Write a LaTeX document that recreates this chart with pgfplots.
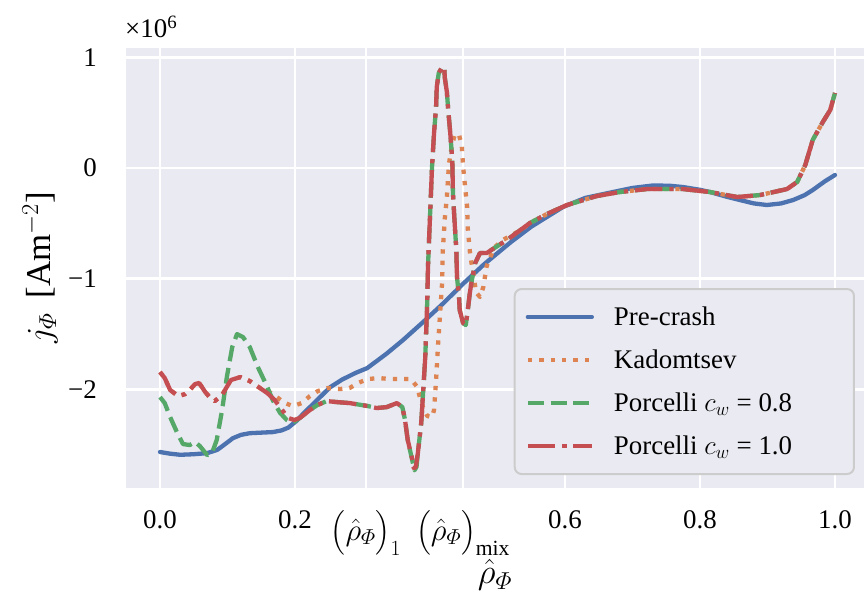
\RequirePackage{fix-cm}
\documentclass[border=0pt]{standalone}
\usepackage{amsmath}
\usepackage{fontspec}
\setmainfont{Liberation Serif}
\usepackage{pgfplots}
\pgfplotsset{compat=1.18}

\definecolor{bgc}{HTML}{EAEAF2}
\definecolor{cblue}{HTML}{4C72B0}
\definecolor{corange}{HTML}{DD8452}
\definecolor{cgreen}{HTML}{55A868}
\definecolor{cred}{HTML}{C44E52}
\definecolor{legedge}{HTML}{CCCCCC}

\newcommand\fs{\fontsize{27}{32}\selectfont}
\newcommand\fm{\fontsize{31}{36}\selectfont}
\newcommand\fl{\fontsize{35}{42}\selectfont}
% legend text cell of fixed width
\newcommand\lent[1]{\makebox[229bp][l]{#1}}

% current density profiles (units of 10^6 A m^-2)
\pgfplotstableread{
x y
0.000 -2.565
0.015 -2.580
0.030 -2.590
0.050 -2.585
0.070 -2.575
0.085 -2.545
0.095 -2.500
0.108 -2.440
0.120 -2.410
0.133 -2.395
0.150 -2.390
0.167 -2.385
0.180 -2.370
0.190 -2.345
0.203 -2.280
0.212 -2.220
0.222 -2.160
0.237 -2.070
0.252 -1.980
0.270 -1.910
0.290 -1.850
0.307 -1.807
0.335 -1.680
0.360 -1.554
0.390 -1.390
0.420 -1.220
0.450 -1.040
0.480 -0.870
0.520 -0.668
0.550 -0.530
0.597 -0.352
0.630 -0.270
0.671 -0.217
0.700 -0.180
0.730 -0.158
0.755 -0.160
0.775 -0.172
0.800 -0.197
0.815 -0.217
0.840 -0.260
0.859 -0.289
0.880 -0.320
0.899 -0.334
0.920 -0.320
0.938 -0.289
0.955 -0.245
0.967 -0.199
0.985 -0.120
1.000 -0.063
}\precrash

\pgfplotstableread{
x y
0.000 -1.843
0.007 -1.897
0.015 -2.005
0.027 -2.060
0.037 -2.042
0.044 -2.005
0.052 -1.951
0.058 -1.942
0.067 -2.023
0.076 -2.087
0.081 -2.105
0.092 -2.051
0.098 -1.987
0.105 -1.915
0.119 -1.888
0.133 -1.924
0.148 -1.987
0.160 -2.015
0.173 -2.069
0.185 -2.123
0.197 -2.150
0.210 -2.123
0.222 -2.060
0.234 -2.014
0.249 -1.987
0.267 -1.996
0.281 -1.987
0.293 -1.942
0.308 -1.906
0.324 -1.897
0.341 -1.906
0.356 -1.906
0.372 -1.906
0.381 -1.978
0.385 -2.069
0.390 -2.168
0.396 -2.240
0.403 -2.249
0.406 -2.186
0.409 -1.915
0.412 -1.590
0.415 -1.310
0.418 -1.030
0.419 -0.741
0.422 -0.452
0.425 -0.262
0.428 0.027
0.430 0.117
0.433 0.217
0.437 0.307
0.443 0.298
0.447 0.208
0.449 0.018
0.452 -0.172
0.455 -0.352
0.456 -0.551
0.459 -0.750
0.461 -0.840
0.464 -0.939
0.468 -1.120
0.474 -1.165
0.479 -1.075
0.484 -0.885
0.490 -0.795
0.496 -0.714
0.508 -0.650
0.536 -0.555
0.548 -0.497
0.573 -0.416
0.603 -0.334
0.647 -0.253
0.681 -0.217
0.721 -0.190
0.775 -0.190
0.815 -0.217
0.855 -0.262
0.889 -0.244
0.929 -0.190
0.944 -0.126
0.956 0.027
0.967 0.253
0.982 0.416
0.993 0.524
1.000 0.678
}\kadomtsev

\pgfplotstableread{
x y
0.000 -2.069
0.007 -2.123
0.015 -2.249
0.025 -2.385
0.034 -2.493
0.044 -2.502
0.052 -2.475
0.059 -2.511
0.070 -2.593
0.077 -2.575
0.084 -2.457
0.092 -2.186
0.099 -1.888
0.107 -1.617
0.114 -1.500
0.123 -1.527
0.133 -1.617
0.145 -1.798
0.159 -1.978
0.167 -2.096
0.178 -2.213
0.188 -2.276
0.196 -2.303
0.207 -2.258
0.222 -2.186
0.233 -2.141
0.247 -2.105
0.262 -2.114
0.281 -2.123
0.308 -2.150
0.321 -2.168
0.336 -2.159
0.351 -2.123
0.359 -2.159
0.363 -2.276
0.367 -2.457
0.373 -2.620
0.377 -2.730
0.380 -2.700
0.382 -2.575
0.387 -2.304
0.390 -2.005
0.393 -1.707
0.396 -1.192
0.397 -0.894
0.399 -0.587
0.401 -0.289
0.403 0.009
0.406 0.316
0.409 0.551
0.410 0.732
0.413 0.858
0.418 0.912
0.421 0.912
0.422 0.813
0.425 0.687
0.427 0.524
0.430 0.316
0.433 0.072
0.434 -0.226
0.436 -0.443
0.439 -0.741
0.440 -0.985
0.443 -1.165
0.444 -1.283
0.449 -1.400
0.453 -1.418
0.456 -1.283
0.459 -1.129
0.462 -1.012
0.467 -0.858
0.474 -0.768
0.484 -0.768
0.493 -0.732
0.514 -0.650
0.548 -0.497
0.573 -0.416
0.603 -0.334
0.647 -0.253
0.681 -0.217
0.721 -0.190
0.775 -0.190
0.815 -0.217
0.855 -0.262
0.889 -0.244
0.929 -0.190
0.944 -0.126
0.956 0.027
0.967 0.253
0.982 0.416
0.993 0.524
1.000 0.678
}\porcelliA

\pgfplotstableread{
x y
0.000 -1.843
0.007 -1.897
0.015 -2.005
0.027 -2.060
0.037 -2.042
0.044 -2.005
0.052 -1.951
0.058 -1.942
0.067 -2.023
0.076 -2.087
0.081 -2.105
0.092 -2.051
0.098 -1.987
0.105 -1.915
0.119 -1.888
0.133 -1.924
0.148 -1.987
0.159 -2.033
0.170 -2.096
0.181 -2.186
0.190 -2.258
0.199 -2.276
0.207 -2.258
0.222 -2.186
0.233 -2.141
0.247 -2.105
0.262 -2.114
0.281 -2.123
0.308 -2.150
0.321 -2.168
0.336 -2.159
0.351 -2.123
0.359 -2.159
0.363 -2.276
0.367 -2.457
0.373 -2.611
0.376 -2.710
0.379 -2.701
0.382 -2.575
0.387 -2.304
0.390 -2.005
0.393 -1.707
0.396 -1.192
0.397 -0.894
0.399 -0.587
0.401 -0.289
0.403 0.009
0.406 0.316
0.409 0.551
0.410 0.732
0.413 0.858
0.418 0.912
0.421 0.912
0.422 0.813
0.425 0.687
0.427 0.524
0.430 0.316
0.433 0.072
0.434 -0.226
0.436 -0.443
0.439 -0.741
0.440 -0.985
0.443 -1.165
0.444 -1.283
0.449 -1.400
0.453 -1.418
0.456 -1.283
0.459 -1.129
0.462 -1.012
0.467 -0.858
0.474 -0.768
0.484 -0.768
0.493 -0.732
0.514 -0.650
0.548 -0.497
0.573 -0.416
0.603 -0.334
0.647 -0.253
0.681 -0.217
0.721 -0.190
0.775 -0.190
0.815 -0.217
0.855 -0.262
0.889 -0.244
0.929 -0.190
0.944 -0.126
0.956 0.027
0.967 0.253
0.982 0.416
0.993 0.524
1.000 0.678
}\porcelliB

\begin{document}
\begin{tikzpicture}
\begin{axis}[
  name=ax,
  scale only axis,
  width=738bp, height=440bp,
  xmin=-0.0504, xmax=1.043,
  ymin=-2.89, ymax=1.084,
  axis background/.style={fill=bgc},
  axis line style={draw=none},
  grid=major,
  major grid style={white, line width=2.7bp},
  major tick length=0pt,
  xtick={0,0.2,0.305,0.449,0.6,0.8,1.0},
  xticklabels={0.0,0.2,{\fm$\bigl(\hat{\rho}_{\varPhi}\bigr)_{1}$},{\fm$\bigl(\hat{\rho}_{\varPhi}\bigr)_{\mathrm{mix}}$},0.6,0.8,1.0},
  ytick={-2,-1,0,1},
  yticklabels={−2,−1,0,1},
  tick label style={font=\fs, inner sep=0pt},
  xticklabel style={anchor=north, yshift=-22bp},
  yticklabel style={anchor=east, xshift=-29bp},
  xlabel={$\hat{\rho}_{\varPhi}$},
  ylabel={$j_{\varPhi}$ \,[Am$^{-2}$]},
  label style={font=\fl, inner sep=0pt},
  xlabel style={at={(axis description cs:0.5,-0.198)}, anchor=center},
  ylabel style={at={(axis description cs:-0.1165,0.5)}, anchor=center},
  legend cell align=left,
  legend style={at={(axis description cs:0.9878,0.0295)}, anchor=south east,
    fill=bgc, draw=legedge, line width=2bp, rounded corners=7bp,
    inner xsep=11bp, inner ysep=6.5bp, row sep=0pt, column sep=20bp,
    nodes={inner sep=0pt}, font=\fs},
  legend image code/.code={%
    \path[draw=none, fill=none] (0bp,-21.5bp) rectangle (64bp,21.5bp);
    \draw[#1] (0bp,0bp) -- (64bp,0bp);},
  every axis plot/.append style={line width=4.3bp, line join=round},
]
\addplot[cblue, line cap=round] table {\precrash};
\addlegendentry{\lent{Pre-crash}}
\addplot[corange, line cap=butt, dash pattern=on 4.3bp off 7.1bp] table {\kadomtsev};
\addlegendentry{\lent{Kadomtsev}}
\addplot[cgreen, line cap=butt, dash pattern=on 15.9bp off 6.9bp] table {\porcelliA};
\addlegendentry{\lent{Porcelli $c_w$ = 0.8}}
\addplot[cred, line cap=butt, dash pattern=on 27.5bp off 6.9bp on 4.3bp off 6.9bp] table {\porcelliB};
\addlegendentry{\lent{Porcelli $c_w$ = 1.0}}
\end{axis}
\node[anchor=base west, inner sep=0pt, font=\fs] at ([xshift=-1bp,yshift=10bp]ax.north west) {×10\textsuperscript{6}};
\pgfresetboundingbox
\path[use as bounding box] ([xshift=-126bp,yshift=-108bp]ax.south west) rectangle ([yshift=48bp]ax.north east);
\end{tikzpicture}
\end{document}
